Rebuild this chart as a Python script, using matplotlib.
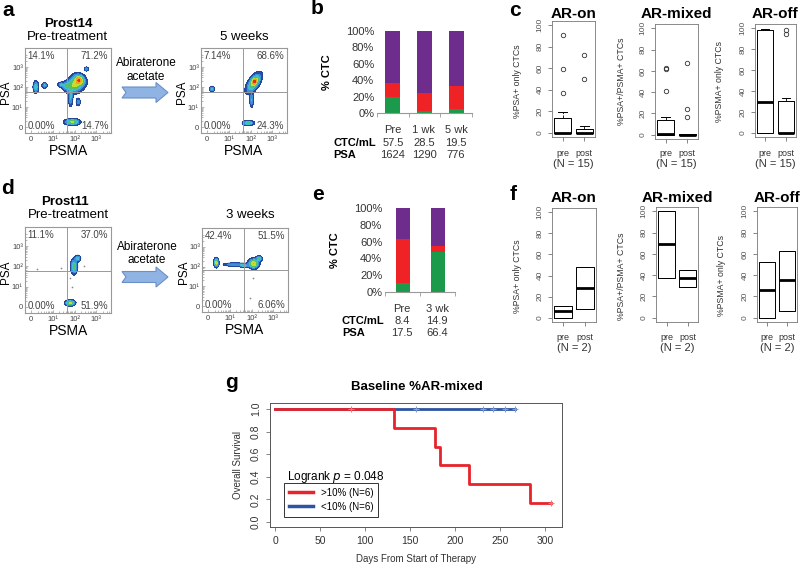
import numpy as np
import matplotlib
matplotlib.use("Agg")
import matplotlib.pyplot as plt
from matplotlib.patches import Polygon
from matplotlib.lines import Line2D

plt.rcParams['font.family'] = ['Liberation Sans', 'DejaVu Sans']

W, H = 800, 571

# ---- flow cytometry panels (a, d): density blobs (cx, cy, sx, sy, amp, angle)
a_pre_blobs = [
    (0.22, 2.0, 0.07, 0.17, 0.42, 0),
    (0.62, 2.08, 0.07, 0.08, 0.32, 0),
    (1.38, 2.12, 0.09, 0.07, 0.30, 0),
    (1.62, 2.05, 0.10, 0.10, 0.30, 0),
    (2.02, 2.12, 0.28, 0.22, 0.60, 40),
    (2.22, 2.38, 0.13, 0.17, 0.55, 35),
    (1.82, 1.45, 0.06, 0.25, 0.30, 0),
    (2.17, 1.25, 0.06, 0.12, 0.25, 0),
    (2.55, 2.90, 0.05, 0.06, 0.30, 0),
    (1.90, 0.25, 0.20, 0.09, 0.58, 0),
]
a_post_blobs = [
    (0.23, 1.90, 0.07, 0.08, 0.35, 0),
    (2.15, 2.20, 0.32, 0.14, 0.58, 60),
    (2.20, 2.30, 0.12, 0.08, 0.38, 60),
    (2.05, 1.35, 0.05, 0.22, 0.30, 0),
    (1.90, 0.20, 0.15, 0.07, 0.45, 0),
]
d_pre_blobs = [
    (1.98, 2.00, 0.09, 0.22, 0.45, 0),
    (2.15, 2.40, 0.08, 0.09, 0.35, 0),
    (1.80, 0.20, 0.13, 0.08, 0.60, 0),
]
d_pre_dots_x = [0.28, 1.40, 1.90, 1.80, 2.45]
d_pre_dots_y = [1.85, 1.90, 1.00, 1.45, 2.00]
d_post_blobs = [
    (0.38, 2.20, 0.06, 0.13, 0.65, 0),
    (1.20, 2.10, 0.30, 0.05, 0.30, 0),
    (1.65, 2.05, 0.12, 0.06, 0.35, 0),
    (2.10, 2.15, 0.14, 0.14, 0.70, 30),
    (2.35, 2.40, 0.08, 0.08, 0.40, 0),
]
d_post_dots_x = [2.05, 1.95]
d_post_dots_y = [1.40, 0.40]

flow_ticklabels = ['0', '10¹', '10²', '10³']
a_pre_pct = ['14.1%', '71.2%', '0.00%', '14.7%']
a_post_pct = ['7.14%', '68.6%', '0.00%', '24.3%']
d_pre_pct = ['11.1%', '37.0%', '0.00%', '51.9%']
d_post_pct = ['42.4%', '51.5%', '0.00%', '6.06%']

# ---- stacked bars (b, e)
b_cats = ['Pre', '1 wk', '5 wk']
b_green = [20, 3, 5]
b_red = [16, 22, 28]
b_purple = [64, 75, 67]
b_ctc = ['57.5', '28.5', '19.5']
b_psa = ['1624', '1290', '776']

e_cats = ['Pre', '3 wk']
e_green = [11, 48]
e_red = [52, 7]
e_purple = [37, 45]
e_ctc = ['8.4', '14.9']
e_psa = ['17.5', '66.4']

# ---- box plots (c, f)
box_titles = ['AR-on', 'AR-mixed', 'AR-off']
box_ylabels = ['%PSA+ only CTCs', '%PSA+/PSMA+ CTCs', '%PSMA+ only CTCs']
c_med = [[0, 0], [0.5, 0], [29, 0]]
c_q1 = [[0, 0], [0, 0], [0, 0]]
c_q3 = [[14, 3], [14, 0.4], [98, 30]]
c_whishi = [[19, 6], [17, 0.6], [99.5, 33]]
c_fliers = [[[37, 59, 91], [50, 72]], [[41, 62, 63], [17, 24, 67]], [[], [94, 98]]]
f_med = [[6, 28], [69, 37], [26, 35]]
f_q1 = [[0, 8], [37, 29], [0, 6]]
f_q3 = [[11, 48], [100, 45], [52, 63]]

# ---- survival (g)
red_t = [0, 132, 178, 183, 216, 283, 307]
red_s = [1.0, 0.833, 0.667, 0.5, 0.333, 0.167, 0.167]
blue_t = [0, 267]
blue_s = [1.0, 1.0]
red_cens_t = [84, 307]
red_cens_s = [1.0, 0.167]
blue_cens_t = [157, 231, 242, 256, 267]
blue_cens_s = [1.0, 1.0, 1.0, 1.0, 1.0]

fig = plt.figure(figsize=(W / 100, H / 100), dpi=100)
bg = fig.add_axes([0, 0, 1, 1], zorder=-1)
bg.set_xlim(0, W)
bg.set_ylim(H, 0)
bg.axis('off')


def px_axes(l, t, r, b):
    return fig.add_axes([l / W, 1 - b / H, (r - l) / W, (b - t) / H])


def txt(x, y, s, **kw):
    kw.setdefault('ha', 'center')
    kw.setdefault('va', 'center')
    bg.text(x, y, s, **kw)


level_vals = [0.07, 0.18, 0.30, 0.42, 0.55, 0.70, 0.85, 10]
level_cols = ['#2a50a5', '#3e8fd9', '#3fbfd2', '#52bf6a', '#c8dc2a', '#f2a020', '#e42a1e']


def flow(rect, blobs, pct, vx, hy, ylab_x, dots_x=None, dots_y=None):
    ax = px_axes(*rect)
    gx = np.linspace(-0.28, 3.68, 300)
    gy = np.linspace(-0.3, 3.95, 300)
    X, Y = np.meshgrid(gx, gy)
    Z = np.zeros_like(X)
    for cx, cy, sx, sy, amp, ang in blobs:
        t = np.radians(ang)
        dx, dy = X - cx, Y - cy
        u = dx * np.cos(t) + dy * np.sin(t)
        v = -dx * np.sin(t) + dy * np.cos(t)
        Z += amp * np.exp(-0.5 * ((u / sx) ** 2 + (v / sy) ** 2))
    ax.contourf(X, Y, Z, levels=level_vals, colors=level_cols)
    ax.contour(X, Y, Z, levels=[0.07], colors=['#1e3f8a'], linewidths=0.4)
    if dots_x is not None:
        ax.scatter(dots_x, dots_y, s=1.5, color='#888888', lw=0)
    ax.axvline(vx, color='#999999', lw=0.7)
    ax.axhline(hy, color='#999999', lw=0.7)
    ax.set_xlim(-0.28, 3.68)
    ax.set_ylim(-0.3, 3.95)
    ax.set_xticks([0, 1, 2, 3])
    ax.set_xticklabels(flow_ticklabels)
    ax.set_yticks([0, 1, 2, 3])
    ax.set_yticklabels(flow_ticklabels)
    minors = [d + np.log10(k) for d in range(0, 4) for k in range(2, 10) if d + np.log10(k) < 3.68]
    ax.set_xticks(minors, minor=True)
    ax.set_yticks(minors, minor=True)
    ax.tick_params(which='both', direction='in', labelsize=5.5, labelcolor='#444444',
                   color='#999999', length=2, width=0.5, pad=2)
    ax.tick_params(axis='y', pad=1.5)
    ax.tick_params(which='minor', length=1.2)
    for sp in ax.spines.values():
        sp.set_color('#999999')
        sp.set_linewidth(0.8)
    kw = dict(transform=ax.transAxes, fontsize=7, color='#444444')
    ax.text(0.03, 0.97, pct[0], ha='left', va='top', **kw)
    ax.text(0.97, 0.97, pct[1], ha='right', va='top', **kw)
    ax.text(0.03, 0.02, pct[2], ha='left', va='bottom', **kw)
    ax.text(0.97, 0.02, pct[3], ha='right', va='bottom', **kw)
    ax.set_xlabel('PSMA', fontsize=10, labelpad=1)
    txt(ylab_x, (rect[1] + rect[3]) / 2 + 2, 'PSA', fontsize=8.5, rotation=90)
    return ax


def arrow(yc):
    pts = [(122, yc - 5.5), (156, yc - 5.5), (156, yc - 10), (168, yc), (156, yc + 10),
           (156, yc + 5.5), (122, yc + 5.5), (126, yc)]
    bg.add_patch(Polygon(pts, closed=True, facecolor='#8fb3e2', edgecolor='#6b8fc9', lw=0.8))


# panel a
txt(8, 10, 'a', fontsize=15, fontweight='bold')
txt(68, 24, 'Prost14', fontsize=9.5, fontweight='bold')
txt(67, 37, 'Pre-treatment', fontsize=9.5)
txt(244, 37, '5 weeks', fontsize=9.5)
flow((25, 48, 111, 133), a_pre_blobs, a_pre_pct, 1.66, 1.75, 6.3)
flow((201, 48, 287, 133), a_post_blobs, a_post_pct, 1.64, 1.77, 182.5)
arrow(92.5)
txt(146, 63, 'Abiraterone', fontsize=8.5)
txt(146, 77, 'acetate', fontsize=8.5)

# panel d
txt(8, 189, 'd', fontsize=15, fontweight='bold')
txt(65, 202, 'Prost11', fontsize=9.5, fontweight='bold')
txt(68, 215, 'Pre-treatment', fontsize=9.5)
txt(250, 215, '3 weeks', fontsize=9.5)
flow((25, 227, 111, 313), d_pre_blobs, d_pre_pct, 1.66, 1.8, 6.3, d_pre_dots_x, d_pre_dots_y)
flow((202, 228, 288, 312), d_post_blobs, d_post_pct, 1.66, 1.85, 183.5, d_post_dots_x, d_post_dots_y)
arrow(277)
txt(147, 247, 'Abiraterone', fontsize=8.5)
txt(147, 260, 'acetate', fontsize=8.5)

# stacked bars
bar_green, bar_red, bar_purple = '#1b9a4b', '#ef2326', '#6e2c8c'


def stacked(rect, cats, g, r, p, width, ylab_x, ylab_y, rows_y, left_x, ctc, psa, centers):
    ax = px_axes(*rect)
    x = np.arange(len(cats))
    ax.bar(x, g, width, color=bar_green)
    ax.bar(x, r, width, bottom=g, color=bar_red)
    ax.bar(x, p, width, bottom=np.array(g) + np.array(r), color=bar_purple)
    ax.set_xlim(-0.5, len(cats) - 0.5)
    ax.set_ylim(0, 100)
    ax.set_yticks([0, 20, 40, 60, 80, 100])
    ax.set_yticklabels(['0%', '20%', '40%', '60%', '80%', '100%'])
    ax.set_xticks(np.arange(len(cats) + 1) - 0.5)
    ax.set_xticklabels([])
    ax.tick_params(axis='y', length=0, labelsize=8, labelcolor='#333333', pad=2)
    ax.tick_params(axis='x', length=3, color='#999999', width=0.6)
    for s in ['top', 'right', 'left']:
        ax.spines[s].set_visible(False)
    ax.spines['bottom'].set_color('#999999')
    ax.spines['bottom'].set_linewidth(0.8)
    txt(ylab_x, ylab_y, '% CTC', fontsize=8, fontweight='bold', rotation=90)
    for i, c in enumerate(cats):
        txt(centers[i], rows_y[0], c, fontsize=8, color='#333333')
        txt(centers[i], rows_y[1], ctc[i], fontsize=8, color='#333333')
        txt(centers[i], rows_y[2], psa[i], fontsize=8, color='#333333')
    txt(left_x, rows_y[1], 'CTC/mL', fontsize=8, fontweight='bold', ha='left')
    txt(left_x, rows_y[2], 'PSA', fontsize=8, fontweight='bold', ha='left')


txt(317, 9, 'b', fontsize=15, fontweight='bold')
stacked((377, 31, 472, 113), b_cats, b_green, b_red, b_purple, 0.48,
        327, 72, (130, 143, 155), 333, b_ctc, b_psa, (393, 424, 456))
txt(318, 195, 'e', fontsize=15, fontweight='bold')
stacked((385, 208, 455, 292), e_cats, e_green, e_red, e_purple, 0.4,
        335, 250, (309, 321, 333), 342, e_ctc, e_psa, (402, 437))


# box plots
def boxpanel(rect, title, ylab, med, q1, q3, whishi, fliers, n_text, title_y,
             lab_x, lab_y, pp_y, n_y):
    ax = px_axes(*rect)
    stats = []
    for k in range(2):
        stats.append(dict(med=med[k], q1=q1[k], q3=q3[k], whislo=q1[k],
                          whishi=whishi[k], fliers=fliers[k]))
    ax.bxp(stats, positions=[1, 2], widths=0.8, showfliers=True,
           boxprops=dict(color='black', lw=0.7),
           medianprops=dict(color='black', lw=2),
           whiskerprops=dict(color='black', lw=0.6, ls='--'),
           capprops=dict(color='black', lw=0.7),
           flierprops=dict(marker='o', markerfacecolor='none', markeredgecolor='#333333',
                           markersize=3.2, markeredgewidth=0.6))
    ax.set_xlim(0.5, 2.5)
    ax.set_ylim(-4, 104)
    ax.set_yticks([0, 20, 40, 60, 80, 100])
    ax.set_yticklabels(['0', '20', '40', '60', '80', '100'], rotation=90, va='center')
    ax.tick_params(axis='y', labelsize=6, labelcolor='#555555', color='#555555',
                   length=3, width=0.5, pad=3)
    ax.set_xticks([1, 2])
    ax.set_xticklabels([])
    ax.tick_params(axis='x', color='#555555', length=3, width=0.5)
    for sp in ax.spines.values():
        sp.set_color('#777777')
        sp.set_linewidth(0.6)
    cx = (rect[0] + rect[2]) / 2
    txt(cx, title_y, title, fontsize=11, fontweight='bold')
    txt(lab_x, lab_y, ylab, fontsize=6.3, rotation=90, color='#333333')
    p1 = rect[0] + (rect[2] - rect[0]) * 0.25
    p2 = rect[0] + (rect[2] - rect[0]) * 0.75
    txt(p1, pp_y, 'pre', fontsize=6.5, color='#333333')
    txt(p2, pp_y, 'post', fontsize=6.5, color='#333333')
    txt(cx, n_y, n_text, fontsize=8, color='#333333')


txt(515, 11, 'c', fontsize=15, fontweight='bold')
txt(513, 194, 'f', fontsize=15, fontweight='bold')
c_rects = [(552, 21, 595, 137), (655, 24, 698, 139), (755, 24, 796, 137)]
f_rects = [(552, 208, 596, 322), (656, 207, 698, 322), (757, 207, 797, 322)]
c_labx = [518, 622, 720]
f_labx = [518, 622, 722]
for i in range(3):
    boxpanel(c_rects[i], box_titles[i], box_ylabels[i], c_med[i], c_q1[i], c_q3[i],
             c_whishi[i], c_fliers[i], '(N = 15)', 14, c_labx[i], 81, 153, 164)
    boxpanel(f_rects[i], box_titles[i], box_ylabels[i], f_med[i], f_q1[i], f_q3[i],
             f_q3[i], [[], []], '(N = 2)', 198, f_labx[i], 276, 337, 348)

# panel g
txt(232, 383, 'g', fontsize=15, fontweight='bold')
ax = px_axes(270, 403, 562, 527)
red_c, blue_c = '#e8232a', '#2b55a3'
ax.step(blue_t, blue_s, where='post', color=blue_c, lw=2)
ax.step(red_t, red_s, where='post', color=red_c, lw=2)
ax.plot(blue_cens_t, blue_cens_s, '+', color='#8aa0cc', ms=5, mew=0.8)
ax.plot(red_cens_t, red_cens_s, '+', color='#e77a7a', ms=5, mew=0.8)
ax.set_xlim(-6, 319)
ax.set_ylim(-0.045, 1.053)
ax.set_xticks([0, 50, 100, 150, 200, 250, 300])
ax.set_yticks([0, 0.2, 0.4, 0.6, 0.8, 1.0])
ax.set_yticklabels(['0.0', '0.2', '0.4', '0.6', '0.8', '1.0'], rotation=90, va='center')
ax.tick_params(labelsize=7.5, labelcolor='#333333', color='#555555', length=3, width=0.5)
for sp in ax.spines.values():
    sp.set_color('#555555')
    sp.set_linewidth(0.7)
ax.set_xlabel('Days From Start of Therapy', fontsize=7, color='#333333', labelpad=6)
ax.set_ylabel('Overall Survival', fontsize=7, color='#333333', labelpad=6)
ax.text(0.058, 0.40, 'Logrank $p$ = 0.048', transform=ax.transAxes, fontsize=8.5,
        ha='left', va='center')
handles = [Line2D([], [], color=red_c, lw=2.5), Line2D([], [], color=blue_c, lw=2.5)]
leg = ax.legend(handles, ['>10% (N=6)', '<10% (N=6)'], loc='lower left',
                bbox_to_anchor=(0.031, 0.045), fontsize=7, fancybox=False,
                edgecolor='#333333', framealpha=1, handlelength=2.5, borderpad=0.5,
                labelspacing=0.4)
leg.get_frame().set_linewidth(0.7)
txt(417, 387, 'Baseline %AR-mixed', fontsize=9.5, fontweight='bold')

fig.savefig('out.png', dpi=100)
